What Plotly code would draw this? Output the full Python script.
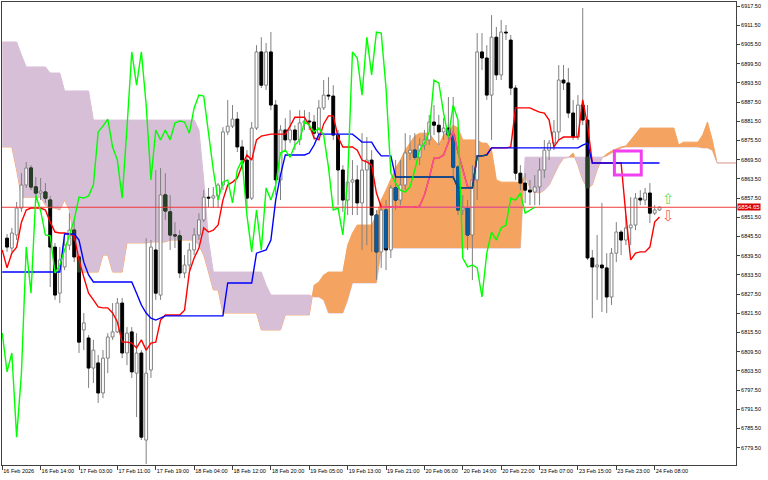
import plotly.graph_objects as go

# ---------------- data (H1 candles, bar index 1..137) ----------------
bars = list(range(1, 138))
opens = [6845.0, 6841.9, 6846.0, 6854.4, 6861.6, 6866.9, 6861.0, 6859.1, 6859.4, 6856.9,
         6842.2, 6827.8, 6836.0, 6842.8, 6847.5, 6839.1, 6816.3, 6813.8, 6804.4, 6806.0,
         6796.6, 6807.5, 6814.1, 6815.7, 6824.7, 6809.1, 6815.7, 6802.8, 6809.1, 6781.9,
         6803.8, 6841.3, 6827.2, 6858.5, 6853.2, 6846.0, 6845.7, 6834.1, 6836.6, 6841.3,
         6846.0, 6850.7, 6857.8, 6857.5, 6858.2, 6861.6, 6878.2, 6880.0, 6882.2, 6873.5,
         6869.4, 6857.5, 6879.4, 6903.2, 6892.8, 6903.2, 6886.6, 6863.2, 6878.8, 6875.7,
         6878.8, 6875.7, 6881.0, 6881.6, 6881.3, 6877.8, 6885.7, 6889.7, 6889.4, 6877.2,
         6866.3, 6856.9, 6862.5, 6863.2, 6856.0, 6866.3, 6869.4, 6852.2, 6840.7, 6853.8,
         6841.3, 6860.7, 6856.9, 6861.6, 6871.6, 6872.5, 6870.3, 6874.1, 6875.7, 6881.3,
         6880.3, 6878.2, 6879.4, 6877.2, 6867.2, 6853.8, 6854.4, 6846.0, 6863.2, 6903.2,
         6901.3, 6889.7, 6907.8, 6896.0, 6909.4, 6906.9, 6891.9, 6865.3, 6862.2, 6860.0,
         6859.4, 6861.0, 6866.3, 6872.5, 6874.7, 6878.2, 6894.4, 6893.5, 6884.1, 6876.6,
         6886.6, 6881.9, 6838.8, 6836.0, 6836.6, 6835.7, 6826.6, 6840.3, 6846.9, 6844.4,
         6848.2, 6849.1, 6857.5, 6856.9, 6859.1, 6852.8, 6853.8]
highs = [6846.3, 6848.2, 6856.3, 6865.3, 6868.8, 6867.8, 6864.1, 6863.8, 6862.2, 6858.2,
         6843.5, 6842.2, 6845.3, 6852.8, 6850.7, 6839.7, 6821.6, 6814.7, 6813.2, 6808.5,
         6810.0, 6815.3, 6824.7, 6826.3, 6826.3, 6817.2, 6817.2, 6815.3, 6810.0, 6845.0,
         6844.4, 6866.3, 6866.9, 6865.3, 6858.5, 6850.0, 6847.5, 6839.7, 6843.5, 6848.2,
         6852.8, 6860.0, 6860.7, 6861.0, 6862.2, 6879.7, 6888.2, 6886.6, 6884.4, 6875.7,
         6872.5, 6881.3, 6905.3, 6907.8, 6906.0, 6909.4, 6888.2, 6880.3, 6882.5, 6885.0,
         6880.3, 6885.0, 6885.0, 6884.4, 6883.5, 6888.2, 6894.4, 6895.3, 6892.8, 6878.8,
         6867.8, 6863.8, 6869.4, 6867.8, 6877.8, 6876.6, 6872.5, 6853.8, 6855.3, 6856.9,
         6861.6, 6869.4, 6869.4, 6877.8, 6877.2, 6877.8, 6876.3, 6878.8, 6883.5, 6886.6,
         6883.5, 6882.5, 6889.1, 6889.1, 6867.8, 6858.5, 6856.9, 6867.8, 6909.1, 6909.1,
         6905.3, 6914.7, 6911.0, 6913.2, 6911.6, 6908.5, 6892.8, 6867.8, 6865.3, 6863.2,
         6864.7, 6870.0, 6875.7, 6875.7, 6881.9, 6899.1, 6899.1, 6898.2, 6888.2, 6889.7,
         6916.9, 6886.6, 6841.3, 6846.0, 6856.0, 6840.3, 6841.9, 6850.0, 6847.5, 6852.2,
         6857.8, 6859.1, 6860.0, 6860.7, 6862.2, 6855.3, 6855.0]
lows = [6840.7, 6840.7, 6844.4, 6853.2, 6860.7, 6860.0, 6856.0, 6856.9, 6856.0, 6829.7,
        6825.7, 6824.7, 6835.0, 6841.3, 6837.5, 6809.1, 6810.0, 6798.2, 6799.7, 6793.5,
        6795.0, 6802.8, 6813.2, 6815.3, 6807.5, 6805.3, 6801.3, 6789.1, 6781.9, 6774.4,
        6801.3, 6825.7, 6825.7, 6850.7, 6841.3, 6841.9, 6832.5, 6832.5, 6835.0, 6839.7,
        6844.4, 6850.0, 6854.7, 6854.4, 6854.4, 6860.0, 6877.2, 6879.4, 6871.9, 6866.3,
        6854.7, 6856.9, 6878.8, 6891.9, 6891.3, 6885.0, 6858.5, 6856.9, 6872.5, 6874.7,
        6872.5, 6874.1, 6878.8, 6878.8, 6875.7, 6875.7, 6885.0, 6888.2, 6875.7, 6855.3,
        6853.2, 6852.2, 6852.2, 6852.2, 6841.3, 6842.8, 6840.7, 6831.9, 6835.7, 6835.0,
        6838.8, 6853.8, 6855.3, 6860.0, 6869.4, 6869.4, 6867.8, 6872.5, 6874.1, 6877.2,
        6874.1, 6875.7, 6875.7, 6863.2, 6852.2, 6852.2, 6841.3, 6831.9, 6856.9, 6897.5,
        6888.2, 6875.7, 6894.4, 6894.4, 6906.9, 6889.7, 6863.2, 6860.0, 6856.0, 6855.3,
        6855.3, 6855.3, 6863.8, 6869.4, 6872.5, 6875.7, 6891.3, 6882.5, 6875.7, 6875.7,
        6880.3, 6838.2, 6820.0, 6825.7, 6821.9, 6821.6, 6824.1, 6837.5, 6839.7, 6842.8,
        6842.8, 6847.5, 6855.3, 6855.3, 6849.7, 6852.2, 6853.5]
closes = [6842.2, 6846.6, 6854.4, 6861.6, 6866.9, 6861.0, 6859.1, 6859.7, 6857.5, 6842.2,
          6827.2, 6838.2, 6842.8, 6847.5, 6839.1, 6812.5, 6818.5, 6804.4, 6810.0, 6796.6,
          6807.5, 6814.1, 6815.7, 6824.7, 6809.1, 6815.3, 6803.2, 6809.1, 6782.8, 6802.8,
          6842.2, 6827.8, 6858.5, 6853.5, 6846.0, 6845.7, 6834.1, 6836.6, 6841.3, 6846.0,
          6850.7, 6857.8, 6857.5, 6858.2, 6861.6, 6878.2, 6880.0, 6882.2, 6873.5, 6869.4,
          6857.5, 6879.4, 6903.2, 6892.8, 6903.2, 6886.6, 6863.2, 6878.8, 6875.7, 6878.8,
          6875.7, 6881.0, 6881.6, 6881.3, 6877.8, 6885.7, 6889.7, 6889.4, 6877.2, 6866.3,
          6856.9, 6862.5, 6863.2, 6856.0, 6866.3, 6869.4, 6852.2, 6840.7, 6853.8, 6841.3,
          6860.7, 6856.9, 6861.6, 6871.6, 6872.5, 6870.3, 6874.1, 6875.7, 6881.3, 6880.3,
          6878.2, 6879.4, 6877.2, 6867.2, 6853.8, 6854.4, 6846.0, 6863.2, 6903.2, 6901.3,
          6889.7, 6907.8, 6896.0, 6909.4, 6909.1, 6891.9, 6865.3, 6862.2, 6860.0, 6859.4,
          6861.0, 6866.3, 6872.5, 6874.7, 6878.2, 6894.4, 6893.5, 6884.1, 6876.6, 6886.6,
          6881.9, 6838.8, 6836.0, 6836.6, 6835.7, 6826.6, 6840.3, 6846.9, 6844.4, 6848.2,
          6849.1, 6857.5, 6856.9, 6859.1, 6852.8, 6853.8, 6854.65]

# Ichimoku lines, index 0..137
line_idx = list(range(0, 138))
tenkan = [6841.3, 6835.7, 6840.3, 6842.2, 6850.0, 6853.8, 6854.4, 6854.4, 6854.4, 6853.8,
          6850.0, 6846.9, 6846.6, 6846.6, 6846.3, 6845.7, 6838.2, 6832.8, 6827.8, 6825.7,
          6823.5, 6823.2, 6823.2, 6821.6, 6818.8, 6812.5, 6812.5, 6812.2, 6810.7, 6813.2,
          6810.0, 6812.2, 6812.5, 6819.4, 6821.0, 6821.0, 6821.0, 6821.0, 6822.5, 6834.4,
          6838.8, 6841.9, 6848.2, 6846.9, 6847.5, 6849.1, 6856.9, 6861.6, 6862.5, 6863.8,
          6867.8, 6871.0, 6869.4, 6875.7, 6876.9, 6877.2, 6877.5, 6877.5, 6877.5, 6877.5,
          6880.0, 6882.8, 6882.8, 6882.8, 6880.3, 6876.3, 6875.7, 6880.7, 6883.2, 6883.2,
          6876.6, 6873.5, 6873.5, 6873.5, 6872.5, 6869.4, 6868.8, 6867.8, 6859.1, 6854.7,
          6854.7, 6854.7, 6854.7, 6854.7, 6854.7, 6854.7, 6854.7, 6855.0, 6858.5, 6863.8,
          6870.0, 6870.0, 6871.0, 6875.0, 6878.2, 6871.9, 6866.3, 6861.0, 6860.7, 6870.7,
          6870.7, 6871.0, 6873.2, 6873.2, 6873.2, 6873.2, 6873.5, 6885.7, 6885.7, 6885.7,
          6885.7, 6885.0, 6884.4, 6884.1, 6881.9, 6873.5, 6875.7, 6876.6, 6876.6, 6876.6,
          6876.6, 6888.2, 6880.3, 6868.5, 6868.5, 6868.5, 6868.5, 6868.5, 6868.5, 6868.5,
          6852.2, 6838.2, 6840.3, 6840.7, 6840.7, 6842.2, 6850.0, 6851.6]
kijun = [6834.4, 6834.4, 6834.4, 6834.4, 6834.4, 6834.4, 6834.4, 6834.4, 6834.4, 6834.4,
         6834.4, 6834.4, 6834.4, 6846.3, 6846.3, 6846.3, 6844.4, 6837.5, 6833.5, 6831.3,
         6831.3, 6831.3, 6831.3, 6831.3, 6831.3, 6831.3, 6831.3, 6831.3, 6827.8, 6824.1,
         6821.6, 6820.0, 6819.4, 6820.0, 6820.7, 6820.7, 6820.7, 6820.7, 6820.7, 6820.7,
         6820.7, 6820.7, 6820.7, 6820.7, 6820.7, 6820.7, 6820.7, 6831.0, 6831.0, 6831.0,
         6831.0, 6831.0, 6831.0, 6840.3, 6840.7, 6841.3, 6844.4, 6856.9, 6864.7, 6871.0,
         6871.0, 6871.0, 6871.0, 6871.0, 6871.6, 6874.1, 6877.5, 6877.5, 6877.5, 6877.5,
         6877.5, 6877.5, 6877.5, 6877.5, 6876.3, 6875.0, 6875.0, 6875.0, 6872.5, 6870.7,
         6870.7, 6870.7, 6864.1, 6864.1, 6864.1, 6864.1, 6864.1, 6864.1, 6864.1, 6864.1,
         6864.1, 6864.1, 6864.1, 6864.1, 6864.1, 6860.7, 6860.7, 6860.7, 6860.7, 6870.7,
         6870.7, 6871.0, 6873.2, 6873.2, 6873.2, 6873.2, 6873.2, 6873.2, 6873.2, 6873.2,
         6873.2, 6873.2, 6873.2, 6873.2, 6873.2, 6873.2, 6873.2, 6873.2, 6873.2, 6873.2,
         6873.2, 6874.1, 6874.7, 6868.5, 6868.5, 6868.5, 6868.5, 6868.5, 6868.5, 6868.5,
         6868.5, 6868.5, 6868.5, 6868.5, 6868.5, 6868.5, 6868.5, 6868.5]

# Senkou spans as drawn (already shifted), index 0..153
cloud_idx = list(range(0, 154))
span_a = [6873.5, 6873.5, 6873.5, 6866.3, 6857.8, 6857.8, 6857.8, 6857.8, 6857.8, 6855.3,
          6854.4, 6854.4, 6853.8, 6856.9, 6853.8, 6844.4, 6834.4, 6834.4, 6834.4, 6834.4,
          6834.4, 6839.7, 6839.7, 6834.4, 6834.4, 6834.4, 6843.5, 6843.5, 6843.5, 6843.5,
          6843.5, 6843.8, 6843.8, 6843.8, 6843.8, 6844.4, 6844.4, 6844.4, 6844.4, 6844.4,
          6844.4, 6842.8, 6839.7, 6834.4, 6828.8, 6828.8, 6821.6, 6821.6, 6821.6, 6821.6,
          6821.6, 6821.6, 6821.6, 6821.6, 6816.3, 6816.3, 6816.3, 6816.3, 6816.3, 6821.0,
          6821.0, 6821.0, 6821.0, 6821.0, 6821.0, 6830.3, 6831.3, 6833.5, 6834.4, 6834.4,
          6834.4, 6834.4, 6842.8, 6846.6, 6849.1, 6849.1, 6849.1, 6849.1, 6852.2, 6856.9,
          6860.0, 6863.2, 6866.9, 6869.4, 6872.5, 6874.7, 6876.9, 6877.8, 6877.8, 6877.8,
          6875.7, 6874.1, 6877.2, 6878.8, 6880.3, 6879.4, 6875.7, 6875.7, 6875.7, 6875.7,
          6874.7, 6874.7, 6872.5, 6863.2, 6862.5, 6862.5, 6862.5, 6862.5, 6862.2, 6864.7,
          6860.7, 6859.4, 6859.1, 6860.0, 6861.6, 6864.7, 6867.8, 6870.0, 6870.2, 6871.6,
          6867.8, 6863.2, 6860.7, 6861.6, 6866.3, 6870.0, 6871.3, 6872.2, 6872.8, 6873.5,
          6873.8, 6875.7, 6877.8, 6879.4, 6879.4, 6879.4, 6879.4, 6879.4, 6879.4, 6879.4,
          6879.4, 6874.1, 6875.0, 6875.0, 6875.0, 6875.0, 6877.2, 6881.3, 6875.7, 6868.5,
          6868.5, 6868.5, 6868.5, 6868.5]
span_b = [6906.3, 6906.3, 6906.3, 6906.3, 6902.2, 6898.5, 6898.5, 6898.5, 6898.5, 6898.5,
          6896.6, 6896.6, 6896.6, 6891.0, 6891.0, 6891.0, 6891.0, 6891.0, 6891.0, 6881.9,
          6881.9, 6881.9, 6881.9, 6881.9, 6881.9, 6881.9, 6881.9, 6881.9, 6881.9, 6881.9,
          6881.9, 6881.9, 6881.9, 6881.9, 6881.9, 6881.9, 6881.9, 6881.9, 6881.9, 6881.9,
          6881.9, 6878.8, 6863.2, 6844.4, 6834.4, 6834.4, 6834.4, 6834.4, 6834.4, 6834.4,
          6834.4, 6834.4, 6834.4, 6834.4, 6834.4, 6830.3, 6827.2, 6827.2, 6827.2, 6827.2,
          6827.2, 6827.2, 6827.2, 6827.2, 6827.2, 6826.6, 6826.6, 6825.7, 6821.6, 6821.6,
          6821.6, 6821.6, 6825.7, 6831.0, 6831.0, 6831.0, 6831.0, 6831.0, 6831.0, 6841.3,
          6841.9, 6841.9, 6841.9, 6841.9, 6841.9, 6841.9, 6841.9, 6841.9, 6841.9, 6841.9,
          6841.9, 6841.9, 6841.9, 6841.9, 6841.9, 6841.9, 6841.9, 6841.9, 6841.9, 6841.9,
          6841.9, 6841.9, 6841.9, 6841.9, 6841.9, 6841.9, 6841.9, 6841.9, 6841.9, 6870.3,
          6870.3, 6870.3, 6870.3, 6870.3, 6870.3, 6870.3, 6870.3, 6870.3, 6870.3, 6870.3,
          6870.3, 6870.3, 6870.3, 6870.3, 6870.3, 6870.3, 6870.7, 6871.6, 6872.2, 6873.2,
          6873.5, 6873.5, 6873.5, 6873.5, 6873.5, 6873.5, 6873.5, 6873.5, 6873.5, 6873.5,
          6873.5, 6873.5, 6873.5, 6873.5, 6873.5, 6873.5, 6873.2, 6873.2, 6872.5, 6868.5,
          6868.5, 6868.5, 6868.5, 6868.5]

current_price = 6854.65
tick_bars = [0, 8, 16, 24, 32, 40, 48, 56, 64, 72, 80, 88, 96, 104, 112, 120, 128, 136]
tick_labels = ['16 Feb 2026', '16 Feb 14:00', '17 Feb 03:00', '17 Feb 11:00', '17 Feb 19:00',
               '18 Feb 04:00', '18 Feb 12:00', '18 Feb 20:00', '19 Feb 05:00', '19 Feb 13:00',
               '19 Feb 21:00', '20 Feb 06:00', '20 Feb 14:00', '20 Feb 22:00', '23 Feb 07:00',
               '23 Feb 15:00', '23 Feb 23:00', '24 Feb 08:00']
y_ticks = [6779.5, 6785.5, 6791.5, 6797.5, 6803.5, 6809.5, 6815.5, 6821.5, 6827.5, 6833.5,
           6839.5, 6845.5, 6851.5, 6857.5, 6863.5, 6869.5, 6875.5, 6881.5, 6887.5, 6893.5,
           6899.5, 6905.5, 6911.5, 6917.5]
# marker box and signal arrows (drawn objects)
box_x = [127.6, 133.2]
box_y = [6864.7, 6872.2]
arrow_bar = 138.9
arrow_up_price = 6857.2
arrow_dn_price = 6851.9

# ---------------- styling ----------------
C_ORANGE = '#F4A460'
C_THISTLE = '#D8BFD8'
C_RED = '#FF0000'
C_BLUE = '#0000FF'
C_LIME = '#00FF00'
C_GRAY = '#808080'
INV = {  # colours a mark takes when drawn inside the cloud (MT4 NOT-XOR effect)
    'up': {'black': '#0B5B9F', 'red': '#F45B9F', 'blue': '#0B5B60', 'price': '#D860A8'},
    'dn': {'black': '#274027'},
}
HW = 0.3  # half body width in bars

fig = go.Figure()

# cloud lines (under the fills)
fig.add_trace(go.Scatter(x=cloud_idx, y=span_a, mode='lines', line=dict(color=C_ORANGE, width=1), hoverinfo='skip'))
fig.add_trace(go.Scatter(x=cloud_idx, y=span_b, mode='lines', line=dict(color=C_THISTLE, width=1), hoverinfo='skip'))

# cloud fills split at crossings
runs = []
cur = None
rx, ra, rb = [], [], []
for k in range(len(cloud_idx)):
    d = span_a[k] - span_b[k]
    s = 'up' if d > 0 else ('dn' if d < 0 else (cur or 'up'))
    if cur is None:
        cur = s
    elif s != cur:
        d0 = span_a[k - 1] - span_b[k - 1]
        t = d0 / (d0 - d) if d0 != d else 0.5
        xc = cloud_idx[k - 1] + t * (cloud_idx[k] - cloud_idx[k - 1])
        yc = span_a[k - 1] + t * (span_a[k] - span_a[k - 1])
        rx.append(xc); ra.append(yc); rb.append(yc)
        runs.append((cur, rx, ra, rb))
        rx, ra, rb = [xc], [yc], [yc]
        cur = s
    rx.append(cloud_idx[k]); ra.append(span_a[k]); rb.append(span_b[k])
runs.append((cur, rx, ra, rb))
polys = {'up': ([], []), 'dn': ([], [])}
for s, qx, qa, qb in runs:
    polys[s][0].extend(qx + qx[::-1] + [None])
    polys[s][1].extend(qa + qb[::-1] + [None])
for s, col in (('dn', C_THISTLE), ('up', C_ORANGE)):
    fig.add_trace(go.Scatter(x=polys[s][0], y=polys[s][1], mode='lines', fill='toself',
                             fillcolor=col, line=dict(width=0, color=col), hoverinfo='skip'))


def cloud_at(i):
    j = int(round(i))
    if j < 0 or j >= len(cloud_idx):
        return None
    a, b = span_a[j], span_b[j]
    return min(a, b), max(a, b), ('up' if a > b else 'dn')


# wicks
wx, wy = [], []
for b, h, l in zip(bars, highs, lows):
    wx += [b, b, None]; wy += [l, h, None]
fig.add_trace(go.Scatter(x=wx, y=wy, mode='lines', line=dict(color=C_GRAY, width=1), hoverinfo='skip'))

# bodies
bull_x, bull_y, bear_x, bear_y = [], [], [], []
inv_body = {'up': ([], []), 'dn': ([], [])}
for b, o, c in zip(bars, opens, closes):
    xs = [b - HW, b + HW, b + HW, b - HW, b - HW, None]
    if c >= o:
        bull_x += xs; bull_y += [o, o, c, c, o, None]
    else:
        bear_x += xs; bear_y += [o, o, c, c, o, None]
        info = cloud_at(b)
        if info:
            lo, hi, s = info
            top, bot = min(o, hi), max(c, lo)
            if top > bot:
                inv_body[s][0].extend(xs)
                inv_body[s][1].extend([bot, bot, top, top, bot, None])
fig.add_trace(go.Scatter(x=bull_x, y=bull_y, mode='lines', fill='toself', fillcolor='#FFFFFF',
                         line=dict(color=C_GRAY, width=1), hoverinfo='skip'))
fig.add_trace(go.Scatter(x=bear_x, y=bear_y, mode='lines', fill='toself', fillcolor='#000000',
                         line=dict(color='#000000', width=1), hoverinfo='skip'))
for s in ('up', 'dn'):
    col = INV[s]['black']
    fig.add_trace(go.Scatter(x=inv_body[s][0], y=inv_body[s][1], mode='lines', fill='toself',
                             fillcolor=col, line=dict(color=col, width=1), hoverinfo='skip'))


def inside_segments(xs, ys, which):
    ox, oy = [], []
    for k in range(len(xs) - 1):
        ok = True
        for j in (k, k + 1):
            info = cloud_at(xs[j])
            if not info or info[2] != which or not (info[0] <= ys[j] <= info[1]):
                ok = False
        if ok:
            ox += [xs[k], xs[k + 1], None]; oy += [ys[k], ys[k + 1], None]
    return ox, oy


# price line
px_line = list(range(-1, 155))
py_line = [current_price for _ in px_line]
fig.add_trace(go.Scatter(x=px_line, y=py_line, mode='lines', line=dict(color='#F03A3A', width=1), hoverinfo='skip'))
ox, oy = inside_segments(px_line, py_line, 'up')
fig.add_trace(go.Scatter(x=ox, y=oy, mode='lines', line=dict(color=INV['up']['price'], width=1), hoverinfo='skip'))

# tenkan / kijun
for vals, col, key in ((tenkan, C_RED, 'red'), (kijun, C_BLUE, 'blue')):
    fig.add_trace(go.Scatter(x=line_idx, y=vals, mode='lines', line=dict(color=col, width=1.4), hoverinfo='skip'))
    ox, oy = inside_segments(line_idx, vals, 'up')
    fig.add_trace(go.Scatter(x=ox, y=oy, mode='lines', line=dict(color=INV['up'][key], width=1.4), hoverinfo='skip'))

# chikou span: closes drawn 26 bars back
chikou_x = [b - 26 for b in bars[24:]]
chikou_y = closes[24:]
fig.add_trace(go.Scatter(x=chikou_x, y=chikou_y, mode='lines', line=dict(color=C_LIME, width=1.4), hoverinfo='skip'))

# drawn rectangle
fig.add_shape(type='rect', xref='x', yref='y', x0=box_x[0], x1=box_x[1], y0=box_y[0], y1=box_y[1],
              line=dict(color='#F040F0', width=3))

# signal arrows
fig.add_annotation(x=arrow_bar, y=arrow_up_price, text='\u21e7', showarrow=False,
                   font=dict(size=15, color='#66DD66', family='DejaVu Sans'))
fig.add_annotation(x=arrow_bar, y=arrow_dn_price, text='\u21e9', showarrow=False,
                   font=dict(size=15, color='#FF6060', family='DejaVu Sans'))

# current price label on the scale
fig.add_annotation(xref='paper', x=1, xanchor='left', xshift=1, y=current_price, yref='y',
                   text='{:.2f}'.format(current_price), showarrow=False, bgcolor='#D80000',
                   font=dict(size=6, color='#FFFFFF', family='Liberation Sans'), borderpad=0)

fig.update_layout(
    width=768, height=480,
    margin=dict(l=2, r=32, t=2, b=15, autoexpand=False),
    paper_bgcolor='#FFFFFF', plot_bgcolor='#FFFFFF',
    showlegend=False, hovermode=False,
    font=dict(family='Liberation Sans', size=6, color='#000000'),
)
fig.update_xaxes(range=[-0.05, 152.95], tickmode='array', tickvals=tick_bars, ticktext=tick_labels,
                 ticks='outside', ticklen=4, tickcolor='#404040', ticklabelposition='outside right',
                 tickangle=0, automargin=False,
                 tickfont=dict(size=5.5, family='Liberation Sans', color='#000000'),
                 showgrid=False, zeroline=False, showline=True, mirror=True, linecolor='#404040', linewidth=1)
fig.update_yaxes(side='right', range=[6774.1, 6918.8], tickmode='array', tickvals=y_ticks,
                 ticktext=['{:.2f}'.format(v) for v in y_ticks], automargin=False,
                 ticks='outside', ticklen=3, tickcolor='#404040',
                 tickfont=dict(size=5.5, family='Liberation Sans', color='#000000'),
                 showgrid=False, zeroline=False, showline=True, mirror=True, linecolor='#404040', linewidth=1)

fig.write_html('out.html', config={'displayModeBar': False},
               post_script="document.body.style.margin='0';document.body.style.overflow='hidden';")
